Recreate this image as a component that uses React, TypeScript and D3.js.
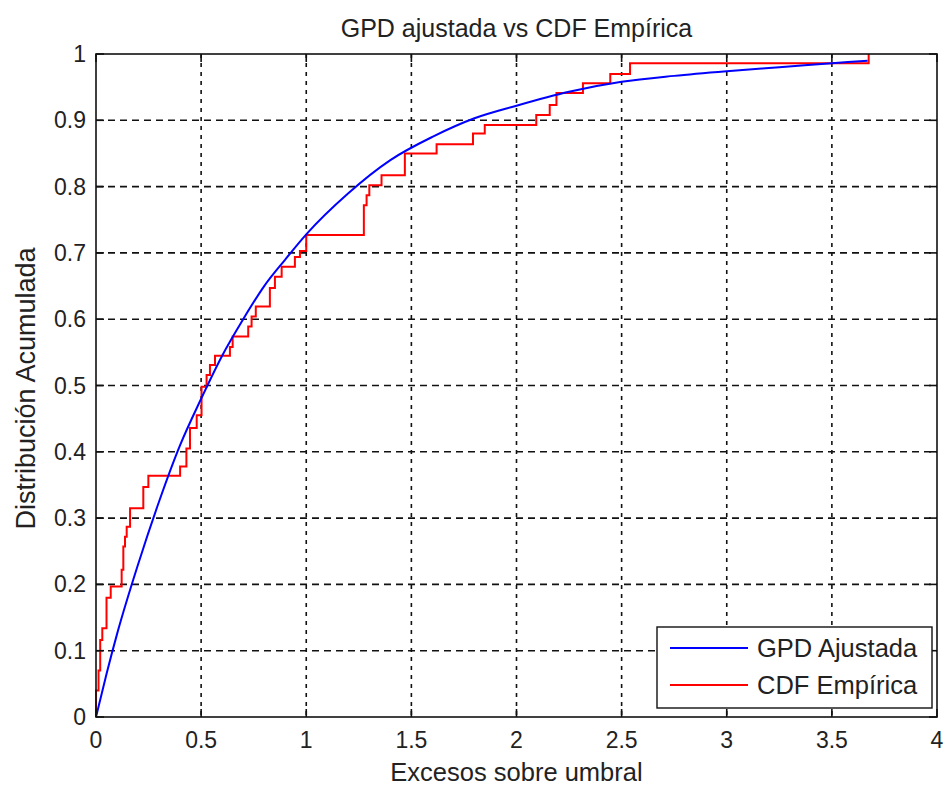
import React from "react";
import * as d3 from "d3";

// Fitted GPD curve, sampled points (excess, cumulative probability)
const gpdX = [0, 0.05, 0.1, 0.2, 0.3, 0.4, 0.5, 0.6, 0.7, 0.8, 0.9, 1.0, 1.2, 1.4, 1.6, 1.8, 2.0, 2.25, 2.5, 2.75, 3.0, 3.25, 3.5, 3.67];
const gpdY = [0, 0.065, 0.125, 0.23, 0.325, 0.41, 0.48, 0.545, 0.6, 0.65, 0.69, 0.728, 0.79, 0.84, 0.875, 0.903, 0.922, 0.943, 0.958, 0.967, 0.974, 0.98, 0.986, 0.99];

// Empirical CDF: jump locations and level after each jump
const ecdfX = [0, 0.012, 0.02, 0.03, 0.05, 0.07, 0.122, 0.13, 0.138, 0.146, 0.162, 0.225, 0.249, 0.4, 0.43, 0.447, 0.479, 0.502, 0.526, 0.542, 0.566, 0.637, 0.65, 0.724, 0.74, 0.76, 0.827, 0.851, 0.883, 0.946, 0.97, 1.0, 1.274, 1.287, 1.3, 1.358, 1.469, 1.62, 1.793, 1.849, 2.094, 2.158, 2.19, 2.316, 2.446, 2.54, 3.675];
const ecdfY = [0.04, 0.07, 0.116, 0.134, 0.18, 0.197, 0.222, 0.257, 0.272, 0.287, 0.315, 0.347, 0.364, 0.378, 0.405, 0.436, 0.455, 0.498, 0.516, 0.531, 0.545, 0.558, 0.574, 0.589, 0.604, 0.619, 0.647, 0.664, 0.679, 0.694, 0.703, 0.727, 0.772, 0.787, 0.802, 0.817, 0.85, 0.864, 0.88, 0.893, 0.908, 0.923, 0.941, 0.956, 0.97, 0.986, 1.0];

const xTicks = [0, 0.5, 1, 1.5, 2, 2.5, 3, 3.5, 4];
const yTicks = [0, 0.1, 0.2, 0.3, 0.4, 0.5, 0.6, 0.7, 0.8, 0.9, 1];
const xTickLabels = ["0", "0.5", "1", "1.5", "2", "2.5", "3", "3.5", "4"];
const yTickLabels = ["0", "0.1", "0.2", "0.3", "0.4", "0.5", "0.6", "0.7", "0.8", "0.9", "1"];

const seriesNames = ["GPD Ajustada", "CDF Empírica"];
const seriesColors = ["#0000ff", "#ff0000"];

const W = 950;
const H = 787;
const L = 96, R = 937, T = 54, B = 717;
const FONT = "'Liberation Sans', Arial, sans-serif";

export default function App() {
  const x = d3.scaleLinear().domain([0, 4]).range([L, R]);
  const y = d3.scaleLinear().domain([0, 1]).range([B, T]);

  const gpdPts: [number, number][] = gpdX.map((v, i) => [v, gpdY[i]]);
  const ecdfPts: [number, number][] = [[0, 0], ...ecdfX.map((v, i) => [v, ecdfY[i]] as [number, number])];

  const smooth = d3.line<[number, number]>().x(d => x(d[0])).y(d => y(d[1])).curve(d3.curveMonotoneX);
  const step = d3.line<[number, number]>().x(d => x(d[0])).y(d => y(d[1])).curve(d3.curveStepAfter);

  const tickLen = 8;

  return (
    <svg width={W} height={H} style={{ position: "absolute", left: 0, top: 0, background: "#fff" }} fontFamily={FONT}>
      <rect x={0} y={0} width={W} height={H} fill="#fff" />

      {/* grid */}
      {xTicks.slice(1, -1).map(t => (
        <line key={"gx" + t} x1={x(t)} x2={x(t)} y1={T} y2={B} stroke="#111" strokeWidth={1.6} strokeDasharray="4,5" />
      ))}
      {yTicks.slice(1, -1).map(t => (
        <line key={"gy" + t} x1={L} x2={R} y1={y(t)} y2={y(t)} stroke="#111" strokeWidth={1.6} strokeDasharray="7,5" />
      ))}

      {/* data */}
      <path d={step(ecdfPts) || ""} fill="none" stroke={seriesColors[1]} strokeWidth={2} />
      <path d={smooth(gpdPts) || ""} fill="none" stroke={seriesColors[0]} strokeWidth={2} />

      {/* axes box and ticks */}
      <rect x={L} y={T} width={R - L} height={B - T} fill="none" stroke="#111" strokeWidth={1.6} />
      {xTicks.map(t => (
        <g key={"tx" + t}>
          <line x1={x(t)} x2={x(t)} y1={B} y2={B - tickLen} stroke="#111" strokeWidth={1.6} />
          <line x1={x(t)} x2={x(t)} y1={T} y2={T + tickLen} stroke="#111" strokeWidth={1.6} />
        </g>
      ))}
      {yTicks.map(t => (
        <g key={"ty" + t}>
          <line x1={L} x2={L + tickLen} y1={y(t)} y2={y(t)} stroke="#111" strokeWidth={1.6} />
          <line x1={R} x2={R - tickLen} y1={y(t)} y2={y(t)} stroke="#111" strokeWidth={1.6} />
        </g>
      ))}

      {/* tick labels */}
      {xTicks.map((t, i) => (
        <text key={"lx" + t} x={x(t)} y={748} textAnchor="middle" fontSize={23} fill="#222">{xTickLabels[i]}</text>
      ))}
      {yTicks.map((t, i) => (
        <text key={"ly" + t} x={86} y={y(t) + 8} textAnchor="end" fontSize={23} fill="#222">{yTickLabels[i]}</text>
      ))}

      {/* titles */}
      <text x={(L + R) / 2} y={37} textAnchor="middle" fontSize={25} fill="#222">GPD ajustada vs CDF Empírica</text>
      <text x={(L + R) / 2} y={781} textAnchor="middle" fontSize={25.5} fill="#222">Excesos sobre umbral</text>
      <text transform={`translate(35, ${(T + B) / 2 + 3}) rotate(-90)`} textAnchor="middle" fontSize={27} fill="#222">Distribución Acumulada</text>

      {/* legend */}
      <rect x={657} y={627} width={275} height={81} fill="#fff" stroke="#111" strokeWidth={1.4} />
      {seriesNames.map((n, i) => (
        <g key={n}>
          <line x1={670} x2={748} y1={648 + i * 37} y2={648 + i * 37} stroke={seriesColors[i]} strokeWidth={2} />
          <text x={757} y={657 + i * 37} fontSize={25.5} fill="#222">{n}</text>
        </g>
      ))}
    </svg>
  );
}
